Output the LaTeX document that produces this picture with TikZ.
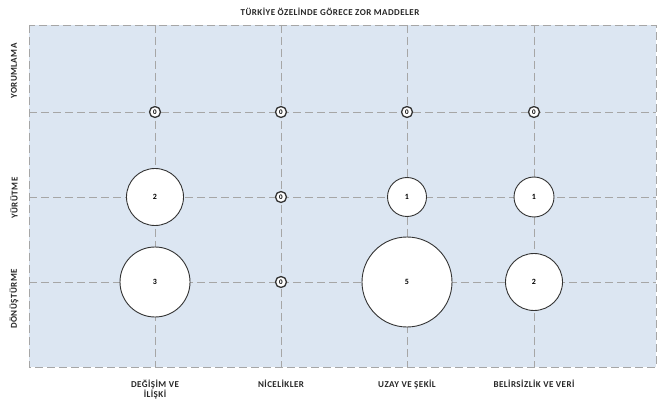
\documentclass[tikz,border=0pt]{standalone}
\usepackage{fontspec}
\setmainfont{Carlito}
\definecolor{plotbg}{HTML}{DCE6F2}
\definecolor{gridgray}{HTML}{A6A6A6}
\begin{document}
\begin{tikzpicture}[x=1pt, y=-1pt,
    gridline/.style={gridgray, line width=0.8pt, dash pattern=on 8pt off 4pt},
    bubble/.style={circle, draw=black!80, fill=white, line width=0.9pt, inner sep=0pt,
                   font=\bfseries\fontsize{8}{9}\selectfont},
    zerobubble/.style={bubble, line width=1.3pt, minimum size=11pt, font=\bfseries\fontsize{7}{8}\selectfont},
    axlabel/.style={font=\bfseries\fontsize{9}{10.5}\selectfont\addfontfeatures{LetterSpace=5},
                    align=center, text=black!85}]

    % Plot area
    \def\xmin{29}
    \def\xmax{656}
    \def\ymin{25}
    \def\ymax{367}
    \useasboundingbox (0,0) rectangle (661,403);
    \fill[white] (0,0) rectangle (661,403);
    \fill[plotbg] (\xmin,\ymin) rectangle (\xmax,\ymax);

    % Grid
    \foreach \x in {155,281,407,534}
        \draw[gridline] (\x,\ymin) -- (\x,\ymax);
    \foreach \y in {112,197,282}
        \draw[gridline] (\xmin,\y) -- (\xmax,\y);
    \draw[gridline] (\xmin,\ymin) rectangle (\xmax,\ymax);

    % Title
    \node[axlabel] (title) at (330,12) {TÜRKİYE ÖZELİNDE GÖRECE ZOR MADDELER};

    % Axis labels, y
    \node[axlabel, rotate=90] (yorum) at (14,71)  {YORUMLAMA};
    \node[axlabel, rotate=90] (yurut) at (14,198) {YÜRÜTME};
    \node[axlabel, rotate=90] (donus) at (14,299) {DÖNÜŞTÜRME};
    % Axis labels, x
    \node[axlabel, anchor=north] (degisim)  at (155,376) {DEĞİŞİM VE\\İLİŞKİ};
    \node[axlabel, anchor=north] (nicelik)  at (281,376) {NİCELİKLER};
    \node[axlabel, anchor=north] (uzay)     at (407,376) {UZAY VE ŞEKİL};
    \node[axlabel, anchor=north] (belirsiz) at (534,376) {BELİRSİZLİK VE VERİ};

    % Bubbles with value 0
    \foreach \name/\x/\y in {ya/155/112, yb/281/112, yc/407/112, yd/534/112,
                             rb/281/197, db/281/282}
        \node[zerobubble] (\name) at (\x,\y) {0};
    % Bubbles, size by value
    \foreach \name/\x/\y/\v/\d in {ra/155/197/2/57, rc/407/197/1/39, rd/534/197/1/40,
                                   da/155/282/3/70, dc/407/282/5/90, dd/534/282/2/57}
        \node[bubble, minimum size=\d pt] (\name) at (\x,\y) {\v};

\end{tikzpicture}
\end{document}
